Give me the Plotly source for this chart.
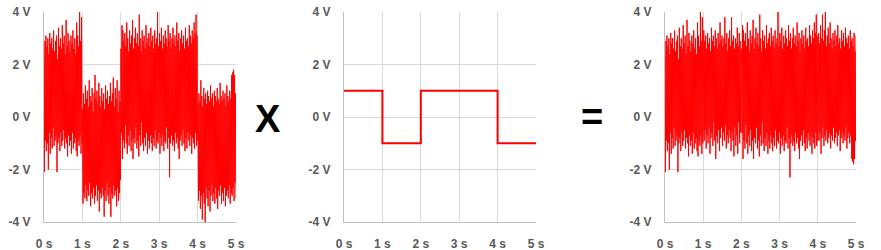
import numpy as np
import plotly.graph_objects as go

# ---------------- data ----------------
seconds = [0, 1, 2, 3, 4, 5]
square_levels = [1, -1, 1, 1, -1]          # reference square wave level during each second

# noisy input signal: alternating upper / lower excursions, 40 of each per second
sig_upper = [
    # 0-1 s
    2.3, 2.9, 3.1, 2.7, 3.0, 2.4, 3.2, 2.8, 3.0, 2.6, 3.3, 2.5, 2.9, 3.1, 2.2, 3.4, 2.7, 3.0, 2.6, 3.5,
    2.8, 3.1, 2.4, 3.7, 2.7, 3.2, 2.9, 2.5, 3.1, 2.8, 3.3, 2.6, 3.0, 2.4, 3.6, 3.1, 2.7, 4.0, 2.9, 3.8,
    # 1-2 s
    0.3, 0.9, 0.5, 1.2, 0.7, 1.0, 0.4, 1.4, 0.8, 0.6, 1.1, 0.2, 0.9, 1.6, 0.7, 1.0, 0.5, 1.3, 0.8, 0.4,
    1.1, 0.6, 0.9, 0.3, 1.2, 0.7, 1.0, 0.5, 0.8, 1.3, 0.6, 0.9, 1.5, 0.4, 1.1, 0.7, 1.4, 0.2, 1.0, 0.6,
    # 2-4 s
    2.6, 3.5, 3.3, 2.9, 3.2, 2.7, 3.6, 3.0, 2.5, 3.3, 2.8, 3.1, 3.7, 2.6, 3.0, 3.4, 2.8, 3.2, 2.7, 3.9,
    3.0, 2.5, 3.3, 2.9, 3.1, 2.6, 3.5, 2.8, 3.0, 3.2, 2.7, 3.4, 2.9, 3.1, 2.6, 3.3, 2.8, 3.0, 4.0, 2.7,
    3.2, 2.9, 3.4, 2.6, 3.1, 2.8, 3.3, 3.0, 2.7, 3.5, 2.9, 3.2, 2.6, 3.0, 3.4, 2.8, 3.1, 2.7, 3.6, 2.9,
    3.2, 2.5, 3.0, 3.3, 2.8, 3.1, 2.6, 3.4, 2.9, 3.0, 2.7, 3.5, 3.1, 2.8, 3.3, 3.0, 3.6, 3.2, 3.9, 3.1,
    # 4-5 s
    0.5, 0.9, 0.6, 1.4, 0.8, 0.4, 1.1, 0.7, 0.9, 0.5, 1.0, 0.8, 0.6, 1.2, 0.7, 0.9, 0.4, 1.0, 0.8, 0.6,
    1.1, 0.7, 0.5, 1.3, 0.8, 0.6, 1.0, 0.7, 0.9, 0.4, 1.2, 0.8, 0.6, 1.0, 0.7, 1.6, 1.7, 1.8, 1.6, 0.9,
]
sig_lower = [
    # 0-1 s
    -2.1, -0.9, -1.3, -1.0, -2.0, -0.6, -1.4, -0.8, -1.2, -0.4, -1.1, -0.9, -0.7, -2.1, -1.0, -0.8, -1.3, -0.6, -1.1, -0.9,
    -0.5, -1.2, -0.8, -1.0, -1.5, -0.7, -1.1, -0.9, -1.4, -0.6, -1.2, -1.0, -0.8, -1.3, -1.5, -0.9, -1.1, -0.7, -1.4, -1.0,
    # 1-2 s
    -3.3, -2.9, -3.1, -2.6, -3.2, -2.8, -3.0, -2.5, -3.4, -2.9, -3.1, -2.7, -3.3, -3.0, -2.6, -3.2, -2.8, -3.6, -2.9, -3.1,
    -2.7, -3.0, -3.8, -2.8, -3.2, -2.5, -3.0, -3.3, -2.7, -3.8, -2.9, -3.1, -2.6, -3.0, -2.8, -3.4, -2.7, -3.2, -2.9, -2.4,
    # 2-4 s
    -0.6, -1.6, -0.9, -1.2, -0.3, -1.0, -1.4, -0.7, -1.1, -0.5, -1.3, -0.9, -1.6, -0.8, -1.0, -0.4, -1.2, -0.9, -1.5, -0.7,
    -1.1, -0.2, -1.0, -1.3, -0.8, -1.1, -0.6, -1.4, -0.9, -1.2, -0.7, -1.0, -1.3, -0.8, -1.1, -0.5, -1.2, -0.9, -1.0, -0.6,
    -1.4, -0.8, -1.1, -0.7, -1.3, -0.9, -1.0, -0.4, -1.2, -0.8, -2.3, -1.0, -0.7, -1.1, -0.9, -1.3, -0.6, -1.0, -0.8, -1.2,
    -1.6, -0.9, -0.7, -1.1, -0.5, -1.0, -1.3, -0.8, -1.2, -0.6, -0.9, -1.1, -0.7, -1.4, -0.8, -1.0, -1.2, -0.6, -1.1, -0.9,
    # 4-5 s
    -3.2, -2.8, -3.5, -3.0, -3.9, -2.9, -3.3, -4.0, -2.7, -3.1, -3.4, -2.8, -3.6, -3.0, -2.6, -3.2, -2.9, -3.3, -2.7, -3.1,
    -3.5, -2.8, -3.0, -2.6, -3.3, -2.9, -3.2, -2.7, -3.4, -3.0, -2.8, -3.1, -2.6, -3.3, -2.9, -3.0, -2.7, -3.2, -2.5, -3.1,
]

y_tick_vals = [-4, -2, 0, 2, 4]
y_tick_text = ["-4 V", "-2 V", "0 V", "2 V", "4 V"]
x_tick_vals = [0, 1, 2, 3, 4, 5]
x_tick_text = ["0 s", "1 s", "2 s", "3 s", "4 s", "5 s"]
operator_labels = ["X", "="]

# ---------------- build series ----------------
signal = []
for u, l in zip(sig_upper, sig_lower):
    signal.append(u)
    signal.append(l)
signal = np.array(signal)
t = np.linspace(seconds[0], seconds[-1], len(signal))
level_at_t = np.array([square_levels[min(int(tt), len(square_levels) - 1)] for tt in t])
product = signal * level_at_t

sq_x = seconds
sq_y = square_levels + [square_levels[-1]]

# ---------------- figure ----------------
W, H = 881, 250
RED = "#FF0000"
fig = go.Figure()
fig.add_trace(go.Scatter(x=t, y=signal, mode="lines",
                         line=dict(color=RED, width=1, simplify=False),
                         xaxis="x", yaxis="y", showlegend=False, hoverinfo="skip"))
fig.add_trace(go.Scatter(x=sq_x, y=sq_y, mode="lines",
                         line=dict(color=RED, width=2, shape="hv"),
                         xaxis="x2", yaxis="y2", showlegend=False, hoverinfo="skip"))
fig.add_trace(go.Scatter(x=t, y=product, mode="lines",
                         line=dict(color=RED, width=1, simplify=False),
                         xaxis="x3", yaxis="y3", showlegend=False, hoverinfo="skip"))

ydom = [1 - 222 / H, 1 - 12 / H]
xdoms = [[44 / W, 236 / W], [344 / W, 536 / W], [665 / W, 856 / W]]
tickfont = dict(family="Liberation Sans, Arial, sans-serif", size=12, color="#595959", weight="bold")

def xax(dom, anchor):
    return dict(domain=dom, anchor=anchor, range=[0, 5], tickvals=x_tick_vals, ticktext=x_tick_text,
                showgrid=True, gridcolor="#d9d9d9", gridwidth=1, zeroline=False,
                showline=True, linecolor="#bfbfbf", linewidth=1, ticks="",
                tickfont=tickfont, ticklabelstandoff=11, fixedrange=True, automargin=False)

def yax(anchor):
    return dict(domain=ydom, anchor=anchor, range=[-4, 4], tickvals=y_tick_vals, ticktext=y_tick_text,
                showgrid=True, gridcolor="#d9d9d9", gridwidth=1, zeroline=False,
                showline=True, linecolor="#bfbfbf", linewidth=1, ticks="",
                tickfont=tickfont, ticklabelstandoff=10, fixedrange=True, automargin=False)

fig.update_layout(
    width=W, height=H, margin=dict(l=0, r=0, t=0, b=0),
    paper_bgcolor="white", plot_bgcolor="white",
    xaxis=xax(xdoms[0], "y"), yaxis=yax("x"),
    xaxis2=xax(xdoms[1], "y2"), yaxis2=yax("x2"),
    xaxis3=xax(xdoms[2], "y3"), yaxis3=yax("x3"),
    annotations=[
        dict(text=operator_labels[0], x=268 / W, y=1 - 119 / H, xref="paper", yref="paper",
             showarrow=False, xanchor="center", yanchor="middle",
             font=dict(family="Liberation Sans, Arial, sans-serif", size=38, color="black", weight="bold")),
        dict(text=operator_labels[1], x=592 / W, y=1 - 117 / H, xref="paper", yref="paper",
             showarrow=False, xanchor="center", yanchor="middle",
             font=dict(family="Liberation Sans, Arial, sans-serif", size=38, color="black", weight="bold")),
    ],
)

fig.write_html("out.html", config={"displayModeBar": False})
